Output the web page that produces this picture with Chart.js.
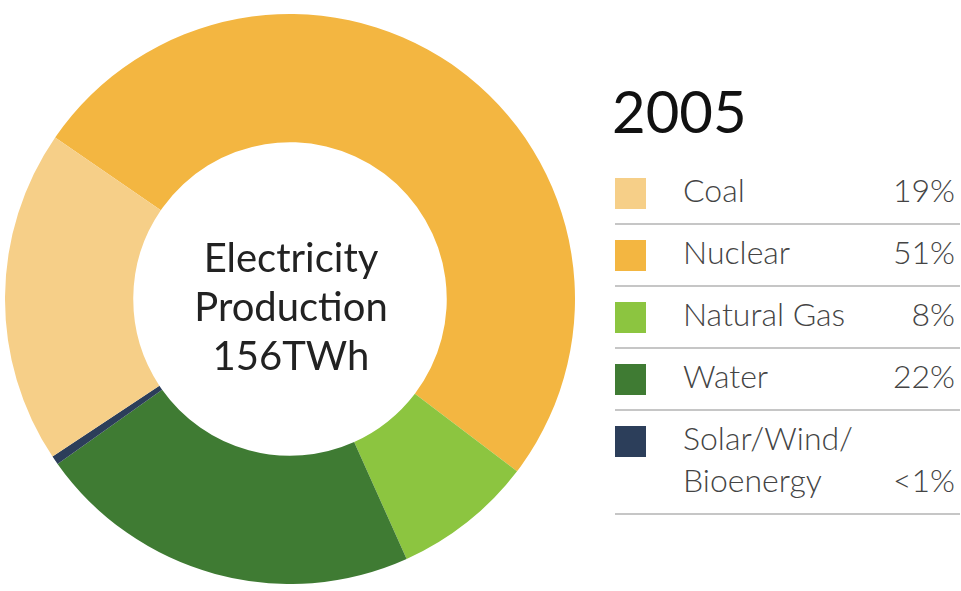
<!DOCTYPE html>
<html>
<head>
<meta charset="utf-8">
<script src="https://cdn.jsdelivr.net/npm/chart.js@4.4.1/dist/chart.umd.min.js"></script>
<style>
  html, body { margin: 0; padding: 0; background: #fff; }
  body { width: 961px; height: 591px; position: relative; overflow: hidden; font-family: Lato, "Open Sans", sans-serif; }
  #wrap { position: absolute; left: 5px; top: 14px; width: 570px; height: 570px; }
  #year { position: absolute; left: 612px; top: 82px; font-size: 58px; line-height: 58px; color: #111; font-weight: 400; }
  #legend { position: absolute; left: 615px; top: 163px; width: 345px; }
  .row { position: relative; display: flex; align-items: flex-end; justify-content: space-between;
         padding: 6px 5px 12px 68px; border-bottom: 2px solid #c6c6c6; font-size: 32px; line-height: 42px;
         font-weight: 300; color: #444; }
  .sw { position: absolute; left: 0; top: 15px; width: 31px; height: 31px; }
</style>
</head>
<body>
<div id="wrap"><canvas id="myChart"></canvas></div>
<div id="year">2005</div>
<div id="legend"></div>
<script>
// ring order (clockwise from the coal/nuclear edge)
const sources = ['Nuclear', 'Natural Gas', 'Water', 'Solar/Wind/Bioenergy', 'Coal'];
const shares = [51, 8, 22, 0.5, 19];
const colours = ['#F3B641', '#8CC540', '#3F7B33', '#2C3E5A', '#F6CF88'];

// legend order as printed
const legendNames = ['Coal', 'Nuclear', 'Natural Gas', 'Water', 'Solar/Wind/<br>Bioenergy'];
const legendKeys = ['Coal', 'Nuclear', 'Natural Gas', 'Water', 'Solar/Wind/Bioenergy'];
const legendPct = ['19%', '51%', '8%', '22%', '<1%'];

const centreLines = ['Electricity', 'Production', '156TWh'];

const legend = document.getElementById('legend');
legendKeys.forEach((k, i) => {
  const c = colours[sources.indexOf(k)];
  const row = document.createElement('div');
  row.className = 'row';
  row.innerHTML = '<span class="sw" style="background:' + c + '"></span>' +
    '<span>' + legendNames[i] + '</span><span>' + legendPct[i].replace('<', '&lt;') + '</span>';
  legend.appendChild(row);
});

const centreText = {
  id: 'centreText',
  afterDraw(chart) {
    const meta = chart.getDatasetMeta(0);
    const arc = meta.data[0];
    const ctx = chart.ctx;
    ctx.save();
    ctx.font = '400 40px Lato, sans-serif';
    ctx.fillStyle = '#222';
    ctx.textAlign = 'center';
    ctx.textBaseline = 'alphabetic';
    centreLines.forEach((t, i) => {
      ctx.fillText(t, arc.x + 1, arc.y + (i - 1) * 49 + 22);
    });
    ctx.restore();
  }
};

new Chart(document.getElementById('myChart'), {
  type: 'doughnut',
  data: {
    labels: sources,
    datasets: [{
      data: shares,
      backgroundColor: colours,
      borderWidth: 0,
      hoverOffset: 0
    }]
  },
  options: {
    responsive: true,
    maintainAspectRatio: false,
    animation: false,
    cutout: '55%',
    rotation: -55.5,
    layout: { padding: 0 },
    plugins: { legend: { display: false }, tooltip: { enabled: false } }
  },
  plugins: [centreText]
});
</script>
</body>
</html>
